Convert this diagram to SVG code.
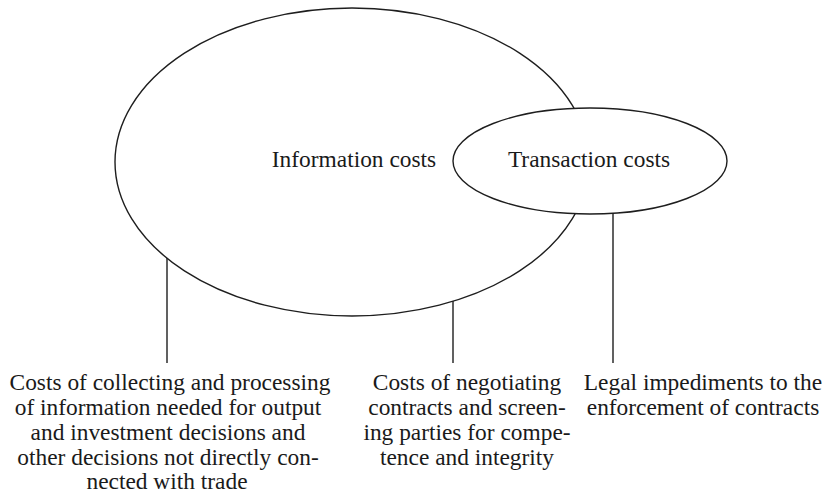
<svg xmlns="http://www.w3.org/2000/svg" width="837" height="503" viewBox="0 0 837 503">
  <style>
    .shape { fill: #ffffff; stroke: #1e1e1e; stroke-width: 1.4; }
    .link { stroke: #1e1e1e; stroke-width: 1.4; fill: none; }
    .label { font-family: "Liberation Serif", "Times New Roman", serif; font-size: 23.4px; fill: #1a1a1a; text-anchor: middle; }
  </style>
  <rect x="0" y="0" width="837" height="503" fill="#ffffff"/>

  <!-- Information costs: large ellipse -->
  <g id="information-costs">
    <ellipse class="shape" cx="352" cy="162" rx="237" ry="154"/>
    <text class="label" x="354" y="167">Information costs</text>
  </g>

  <!-- Transaction costs: smaller ellipse overlapping the right side -->
  <g id="transaction-costs">
    <ellipse class="shape" cx="590" cy="161" rx="137" ry="53"/>
    <text class="label" x="589" y="167">Transaction costs</text>
  </g>

  <!-- Vertical connectors down to the descriptions -->
  <g id="connectors">
    <line class="link" x1="167" y1="258" x2="167" y2="363"/>
    <line class="link" x1="453" y1="301" x2="453" y2="363"/>
    <line class="link" x1="613" y1="214" x2="613" y2="363"/>
  </g>

  <g id="desc-information">
    <text class="label" x="170" y="390">Costs of collecting and processing</text>
    <text class="label" x="168" y="415">of information needed for output</text>
    <text class="label" x="168" y="440">and investment decisions and</text>
    <text class="label" x="168" y="465">other decisions not directly con-</text>
    <text class="label" x="167" y="489">nected with trade</text>
  </g>

  <g id="desc-negotiation">
    <text class="label" x="467" y="390">Costs of negotiating</text>
    <text class="label" x="467" y="415">contracts and screen-</text>
    <text class="label" x="467" y="440">ing parties for compe-</text>
    <text class="label" x="467" y="465">tence and integrity</text>
  </g>

  <g id="desc-legal">
    <text class="label" x="703" y="390">Legal impediments to the</text>
    <text class="label" x="703" y="415">enforcement of contracts</text>
  </g>
</svg>
